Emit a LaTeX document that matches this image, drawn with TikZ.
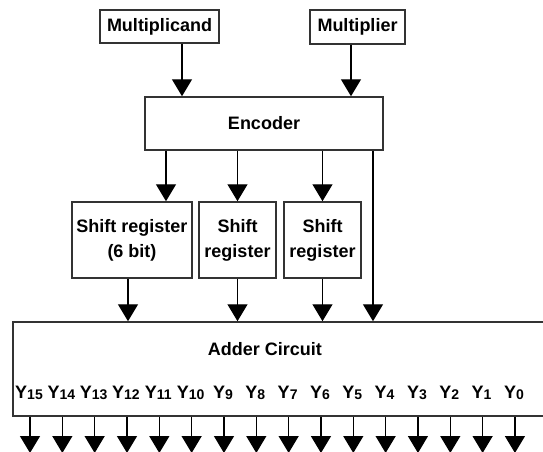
\documentclass[tikz,border=0pt]{standalone}
\usepackage{fontspec}
\setmainfont{Liberation Sans}
\usetikzlibrary{positioning,arrows.meta}
\tikzstyle{blk}=[draw=black!80, line width=1.5pt, fill=white, inner sep=0pt, align=center, font=\fontsize{18}{25}\selectfont\bfseries]
\tikzstyle{ylab}=[inner sep=0pt, font=\fontsize{18}{22}\selectfont\bfseries]
\tikzstyle{sig}=[-{Triangle[width=20pt,length=17pt]}, line width=1.4pt]
\newcommand{\ybit}[1]{Y\raisebox{-1.5pt}{\fontsize{14}{14}\selectfont #1}}

\begin{document}
\begin{tikzpicture}[x=1pt,y=-1pt]
\useasboundingbox (0,0) rectangle (543,452);
\clip (0,0) rectangle (543,452);

% inputs and encoder
\node[blk, minimum width=119pt, minimum height=33pt] at (159.5,26.5) (mcand) {Multiplicand};
\node[blk, minimum width=95pt, minimum height=34pt] at (357.5,27) (mplier) {Multiplier};
\node[blk, minimum width=238pt, minimum height=53pt] at (264,123.5) (enc) {Encoder};

\coordinate (a1) at (182,0);
\coordinate (a2) at (351,0);
\draw[sig] (mcand.south -| a1) -- (enc.north -| a1);
\draw[sig] (mplier.south -| a2) -- (enc.north -| a2);

% shift registers
\node[blk, minimum width=120pt, minimum height=76pt] at (132,240) (sr1) {Shift register\\(6 bit)};
\node[blk, minimum width=77pt, minimum height=76pt] at (237.5,240) (sr2) {Shift\\register};
\node[blk, minimum width=77pt, minimum height=76pt] at (322.5,240) (sr3) {Shift\\register};

\coordinate (e1) at (166,0);
\coordinate (e4) at (373,0);
\draw[sig] (enc.south -| e1) -- (sr1.north -| e1);
\draw[sig] (enc.south -| sr2.north) -- (sr2.north);
\draw[sig] (enc.south -| sr3.north) -- (sr3.north);

% adder
\node[blk, minimum width=537pt, minimum height=94pt] at (281.5,369) (adder) {};
\node[ylab] at (265,349) (addlab) {Adder Circuit};

\coordinate (s1) at (128,0);
\draw[sig] (sr1.south -| s1) -- (adder.north -| s1);
\draw[sig] (sr2.south) -- (adder.north -| sr2.south);
\draw[sig] (sr3.south) -- (adder.north -| sr3.south);
\draw[sig] (enc.south -| e4) -- (adder.north -| e4);

% outputs
\foreach \b [count=\k from 0] in {15,14,...,0} {
  \node[ylab] (y\b) at ({29+32.33*\k},393) {\ybit{\b}};
  \coordinate (o\b) at ({30+32.33*\k},453);
  \draw[sig] (adder.south -| o\b) -- (o\b);
}
\end{tikzpicture}
\end{document}
